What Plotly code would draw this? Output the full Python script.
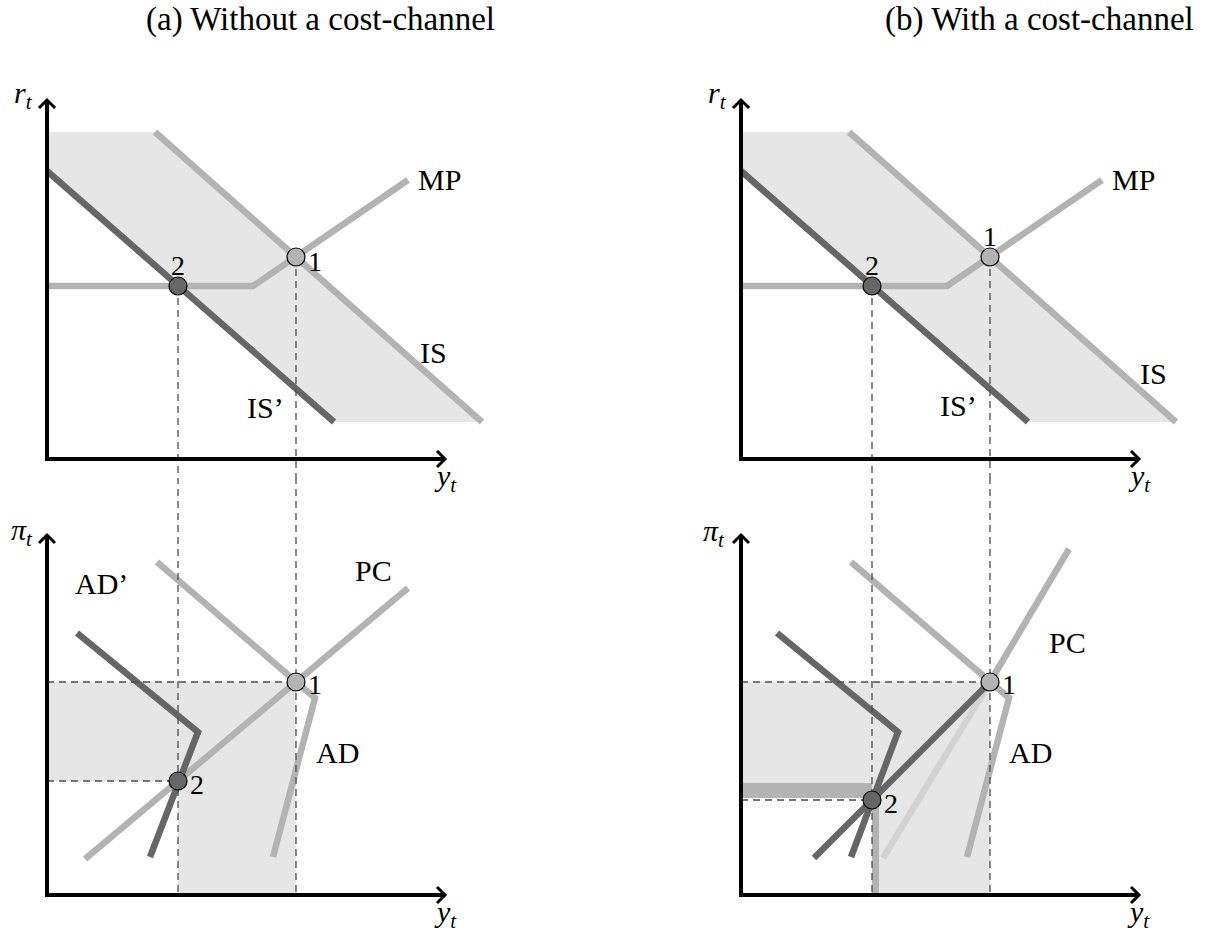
import plotly.graph_objects as go

# ---------------------------------------------------------------
# Curve data (diagram units: output to the right, rate/inflation up)
# ---------------------------------------------------------------

# IS-MP diagram (identical in both panels)
is_y = [108, 435]
is_r = [327, 37]
is_new_y = [0, 287]
is_new_r = [288, 37]
mp_y = [0, 206, 361]
mp_r = [173, 173, 279]
is_band_y = [0, 108, 435, 287, 0]
is_band_r = [327, 327, 37, 37, 288]
eq1_top = (249, 202)
eq2_top = (131, 173)

# AD-PC diagram, panel (a): no cost channel
pc_a_y = [38, 361]
pc_a_pi = [36, 307]
ad_a_y = [110, 268, 226]
ad_a_pi = [333, 197, 38]
ad_new_a_y = [30, 151, 103]
ad_new_a_pi = [262, 163, 38]
eq1_a = (249, 213)
eq2_a = (131, 114)

# AD-PC diagram, panel (b): with a cost channel
pc_b_low_y = [142, 249]
pc_b_low_pi = [37, 213]
pc_b_up_y = [249, 328]
pc_b_up_pi = [213, 346]
pc_new_b_y = [73, 249]
pc_new_b_pi = [37, 213]
ad_b_y = [110, 268, 226]
ad_b_pi = [333, 197, 38]
ad_new_b_y = [36, 157, 110]
ad_new_b_pi = [262, 163, 38]
eq1_b = (249, 213)
eq2_b = (131, 95)
pi_gap_b = (97, 112)       # extra inflation band in (b)
y_gap_b = (131, 138)       # extra output band in (b)

# axis lengths of each diagram
top_len = (398, 359)
bot_len = (398, 360)

titles = ["(a) Without a cost-channel", "(b) With a cost-channel"]

# ---------------------------------------------------------------
# Styling
# ---------------------------------------------------------------
LIGHT = "#b3b3b3"
PALE = "#d2d2d2"
DARK = "#666666"
SHADE = "#e6e6e6"
DASH = "#4d4d4d"
LW = 6.5
FONT = "Liberation Serif"
FS = 30
TITLE_FS = 33

W, H = 1212, 932
fig = go.Figure()

AX = {
    "a_top": ("x", "y"),
    "a_bot": ("x2", "y2"),
    "b_top": ("x3", "y3"),
    "b_bot": ("x4", "y4"),
}


def line(ax, xs, ys, color, width=LW, dash=None):
    fig.add_trace(go.Scatter(
        x=list(xs), y=list(ys), mode="lines",
        line=dict(color=color, width=width, dash=dash),
        xaxis=AX[ax][0], yaxis=AX[ax][1],
        hoverinfo="skip", showlegend=False))


def area(ax, xs, ys, color):
    fig.add_trace(go.Scatter(
        x=list(xs), y=list(ys), mode="lines", fill="toself",
        fillcolor=color, line=dict(width=0, color=color),
        xaxis=AX[ax][0], yaxis=AX[ax][1],
        hoverinfo="skip", showlegend=False))


def dashed(ax, xs, ys):
    line(ax, xs, ys, DASH, width=1.3, dash="7px,5px")


def point(ax, p, color):
    fig.add_trace(go.Scatter(
        x=[p[0]], y=[p[1]], mode="markers",
        marker=dict(size=18, color=color, line=dict(color="black", width=1.2)),
        xaxis=AX[ax][0], yaxis=AX[ax][1],
        hoverinfo="skip", showlegend=False))


def axes(ax, lengths):
    lx, ly = lengths
    line(ax, [0, 0, lx], [ly, 0, 0], "black", width=4)
    a = 8
    line(ax, [-a, 0, a], [ly - a, ly, ly - a], "black", width=3)
    line(ax, [lx - a, lx, lx - a], [a, 0, -a], "black", width=3)


def label(ax, x, y, text, size=FS):
    fig.add_annotation(x=x, y=y, xref=AX[ax][0], yref=AX[ax][1],
                       text=text, showarrow=False,
                       font=dict(family=FONT, size=size, color="black"))


def top_diagram(ax, one_above):
    area(ax, is_band_y, is_band_r, SHADE)
    line(ax, mp_y, mp_r, LIGHT)
    line(ax, is_y, is_r, LIGHT)
    line(ax, is_new_y, is_new_r, DARK)
    dashed(ax, [eq1_top[0], eq1_top[0]], [eq1_top[1], -40])
    dashed(ax, [eq2_top[0], eq2_top[0]], [eq2_top[1], -40])
    axes(ax, top_len)
    point(ax, eq1_top, LIGHT)
    point(ax, eq2_top, DARK)
    label(ax, -24, 364, "<i>r</i><sub><i>t</i></sub>")
    label(ax, 398, -19, "<i>y</i><sub><i>t</i></sub>")
    label(ax, eq2_top[0], eq2_top[1] + 21, "2", size=28)
    if one_above:
        label(ax, eq1_top[0], eq1_top[1] + 20, "1", size=28)
    else:
        label(ax, eq1_top[0] + 19, eq1_top[1] - 4, "1", size=28)


# ---- panel (a) -------------------------------------------------
top_diagram("a_top", one_above=False)
label("a_top", 392, 279, "MP")
label("a_top", 386, 107, "IS")
label("a_top", 218, 52, "IS’")

ax = "a_bot"
area(ax, [0, eq1_a[0], eq1_a[0], eq2_a[0], eq2_a[0], 0],
     [eq1_a[1], eq1_a[1], 0, 0, eq2_a[1], eq2_a[1]], SHADE)
line(ax, pc_a_y, pc_a_pi, LIGHT)
line(ax, ad_a_y, ad_a_pi, LIGHT)
line(ax, ad_new_a_y, ad_new_a_pi, DARK)
dashed(ax, [eq1_a[0], eq1_a[0]], [430, 0])
dashed(ax, [eq2_a[0], eq2_a[0]], [430, 0])
dashed(ax, [0, eq1_a[0]], [eq1_a[1], eq1_a[1]])
dashed(ax, [0, eq2_a[0]], [eq2_a[1], eq2_a[1]])
axes(ax, bot_len)
point(ax, eq1_a, LIGHT)
point(ax, eq2_a, DARK)
label(ax, -25, 363, "<i>π</i><sub><i>t</i></sub>")
label(ax, 398, -19, "<i>y</i><sub><i>t</i></sub>")
label(ax, 54, 312, "AD’")
label(ax, 326, 325, "PC")
label(ax, 290, 143, "AD")
label(ax, eq1_a[0] + 19, eq1_a[1] - 2, "1", size=28)
label(ax, eq2_a[0] + 19, eq2_a[1] - 3, "2", size=28)

# ---- panel (b) -------------------------------------------------
top_diagram("b_top", one_above=True)
label("b_top", 392, 279, "MP")
label("b_top", 412, 86, "IS")
label("b_top", 217, 54, "IS’")

ax = "b_bot"
area(ax, [0, eq1_b[0], eq1_b[0], eq2_b[0], eq2_b[0], 0],
     [eq1_b[1], eq1_b[1], 0, 0, pi_gap_b[1], pi_gap_b[1]], SHADE)
area(ax, [0, eq2_b[0], eq2_b[0], 0],
     [pi_gap_b[0], pi_gap_b[0], pi_gap_b[1], pi_gap_b[1]], LIGHT)
area(ax, [y_gap_b[0], y_gap_b[1], y_gap_b[1], y_gap_b[0]],
     [0, 0, eq2_b[1], eq2_b[1]], LIGHT)
line(ax, pc_b_low_y, pc_b_low_pi, PALE)
line(ax, pc_b_up_y, pc_b_up_pi, LIGHT)
line(ax, ad_b_y, ad_b_pi, LIGHT)
line(ax, ad_new_b_y, ad_new_b_pi, DARK)
line(ax, pc_new_b_y, pc_new_b_pi, DARK)
dashed(ax, [eq1_b[0], eq1_b[0]], [430, 0])
dashed(ax, [eq2_b[0], eq2_b[0]], [430, 0])
dashed(ax, [0, eq1_b[0]], [eq1_b[1], eq1_b[1]])
dashed(ax, [0, eq2_b[0]], [eq2_b[1], eq2_b[1]])
axes(ax, bot_len)
point(ax, eq1_b, LIGHT)
point(ax, eq2_b, DARK)
label(ax, -27, 362, "<i>π</i><sub><i>t</i></sub>")
label(ax, 397, -19, "<i>y</i><sub><i>t</i></sub>")
label(ax, 326, 253, "PC")
label(ax, 289, 143, "AD")
label(ax, eq1_b[0] + 19, eq1_b[1] - 2, "1", size=28)
label(ax, eq2_b[0] + 19, eq2_b[1] - 3, "2", size=28)

# ---- titles ----------------------------------------------------
fig.add_annotation(x=145 / W, y=1, xref="paper", yref="paper",
                   xanchor="left", yanchor="top", text=titles[0],
                   showarrow=False, borderpad=0,
                   font=dict(family=FONT, size=TITLE_FS, color="black"))
fig.add_annotation(x=1195 / W, y=1, xref="paper", yref="paper",
                   xanchor="right", yanchor="top", text=titles[1],
                   showarrow=False, borderpad=0,
                   font=dict(family=FONT, size=TITLE_FS, color="black"))

# ---- layout: one axis pair per diagram, 1 unit = 1 px ----------
hidden = dict(visible=False, fixedrange=True, showgrid=False, zeroline=False)
col_a = [0, 606 / W]
col_b = [606 / W, 1]
row_top = [(H - 480) / H, (H - 40) / H]
row_bot = [0, (H - 480) / H]
fig.update_layout(
    width=W, height=H,
    margin=dict(l=0, r=0, t=0, b=0),
    paper_bgcolor="white", plot_bgcolor="rgba(0,0,0,0)",
    showlegend=False,
    xaxis=dict(domain=col_a, range=[-47, 559], anchor="y", **hidden),
    yaxis=dict(domain=row_top, range=[-21, 419], anchor="x", **hidden),
    xaxis2=dict(domain=col_a, range=[-47, 559], anchor="y2", **hidden),
    yaxis2=dict(domain=row_bot, range=[-37, 415], anchor="x2", **hidden),
    xaxis3=dict(domain=col_b, range=[-135, 471], anchor="y3", **hidden),
    yaxis3=dict(domain=row_top, range=[-21, 419], anchor="x3", **hidden),
    xaxis4=dict(domain=col_b, range=[-135, 471], anchor="y4", **hidden),
    yaxis4=dict(domain=row_bot, range=[-37, 415], anchor="x4", **hidden),
)

fig.write_html("out.html")
